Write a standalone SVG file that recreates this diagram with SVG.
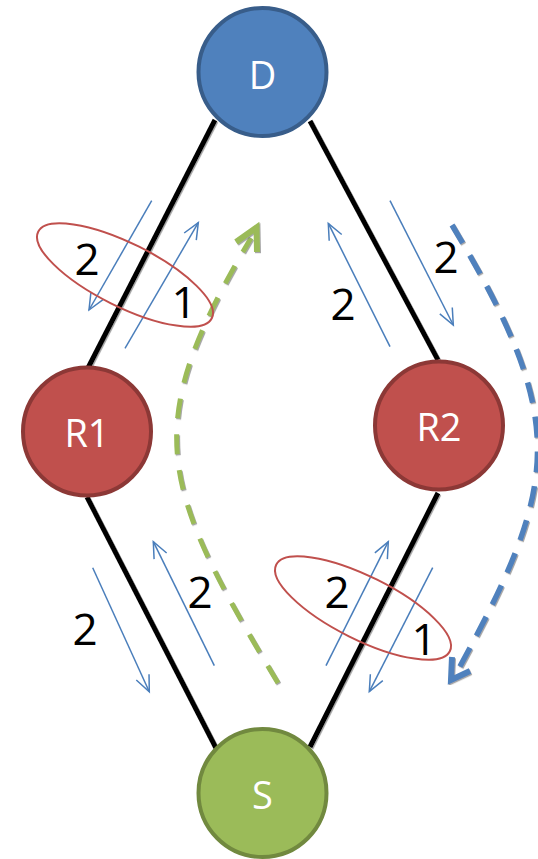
<svg xmlns="http://www.w3.org/2000/svg" width="538" height="859" viewBox="0 0 538 859">
<style>
.link{stroke:#000;stroke-width:5;fill:none;filter:url(#sh)}
.flow{stroke:#4A7EBB;stroke-width:1.5;fill:none;marker-end:url(#ah)}
.ring{stroke:#C0504D;stroke-width:2;fill:none}
.num{font-family:"Open Sans","Noto Sans",sans-serif;font-size:44px;fill:#000;text-anchor:middle}
.lbl{font-family:"Open Sans","Noto Sans",sans-serif;font-size:38px;fill:#fff;text-anchor:middle}
.blue{fill:#4F81BD;stroke:#385D8A;stroke-width:4}
.red{fill:#C0504D;stroke:#8C3836;stroke-width:4}
.green{fill:#9BBB59;stroke:#71893F;stroke-width:4}
.gdash{stroke:#9BBB59;stroke-width:5;fill:none;stroke-dasharray:20 16;filter:url(#sh)}
.bdash{stroke:#4F81BD;stroke-width:5.5;fill:none;stroke-dasharray:21 14;filter:url(#sh)}
.ghead{stroke:#9BBB59;stroke-width:6;fill:none;filter:url(#sh)}
.bhead{stroke:#4F81BD;stroke-width:6;fill:none;filter:url(#sh)}
</style>
<defs>
<filter id="sh" x="-20%" y="-20%" width="140%" height="140%">
<feDropShadow dx="1" dy="1.2" stdDeviation="0.7" flood-color="#808080" flood-opacity="0.7"/>
</filter>
<marker id="ah" markerUnits="userSpaceOnUse" markerWidth="24" markerHeight="24" viewBox="-20 -12 24 24" refX="0" refY="0" orient="auto" overflow="visible">
<path d="M-16,-7 L0,0 L-16,7" fill="none" stroke="#4A7EBB" stroke-width="1.5"/>
</marker>
</defs>
<g id="connectors">
<line class="link" x1="215" y1="120" x2="88" y2="368"/>
<line class="link" x1="310" y1="121" x2="438" y2="360"/>
<line class="link" x1="87" y1="497" x2="217" y2="750"/>
<line class="link" x1="438" y1="493" x2="310" y2="747"/>
<line class="flow" x1="151.7" y1="200.7" x2="89" y2="310"/>
<line class="flow" x1="125" y1="348.3" x2="198.3" y2="222.7"/>
<line class="flow" x1="390" y1="346.7" x2="328.3" y2="223.3"/>
<line class="flow" x1="390" y1="200.7" x2="453.3" y2="325"/>
<line class="flow" x1="92.7" y1="567.7" x2="149.3" y2="691.7"/>
<line class="flow" x1="214.3" y1="665.7" x2="153.3" y2="541.7"/>
<line class="flow" x1="326" y1="665.7" x2="388.3" y2="541.7"/>
<line class="flow" x1="432.7" y1="567.7" x2="369.3" y2="691.7"/>
<path class="gdash" d="M278,683 C158,483 139,427 251,238"/>
<polyline class="ghead" points="236,242 256.5,227.5 257,252"/>
<path class="bdash" d="M452,225 C570,422 560,483 458,670"/>
<polyline class="bhead" points="452,657 451,680 470,671"/>
</g>
<g id="ellipse-top">
<ellipse class="ring" cx="125" cy="275" rx="97" ry="31.6" transform="rotate(26.5 125 275)"/>
</g>
<g id="ellipse-bottom">
<ellipse class="ring" cx="363" cy="608" rx="97" ry="31.6" transform="rotate(26.5 363 608)"/>
</g>
<g id="labels">
<text class="num" x="87" y="275">2</text>
<text class="num" x="184" y="318">1</text>
<text class="num" x="446" y="273">2</text>
<text class="num" x="343" y="320">2</text>
<text class="num" x="85" y="645">2</text>
<text class="num" x="200" y="608">2</text>
<text class="num" x="337" y="608">2</text>
<text class="num" x="424" y="655">1</text>
</g>
<g id="node-D">
<circle class="blue" cx="262.5" cy="72" r="64"/>
<text class="lbl" x="262.5" y="89">D</text>
</g>
<g id="node-R1">
<circle class="red" cx="87" cy="431.5" r="64"/>
<text class="lbl" x="87" y="447">R1</text>
</g>
<g id="node-R2">
<circle class="red" cx="439" cy="425.5" r="64"/>
<text class="lbl" x="439" y="441">R2</text>
</g>
<g id="node-S">
<circle class="green" cx="262.5" cy="793" r="64"/>
<text class="lbl" x="262.5" y="809">S</text>
</g>
</svg>
